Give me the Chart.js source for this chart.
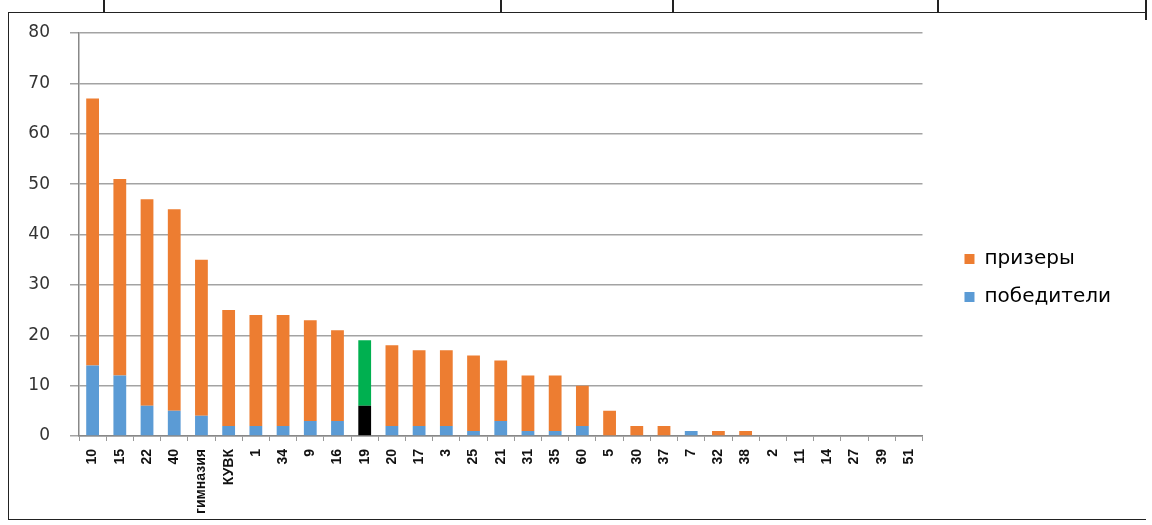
<!DOCTYPE html>
<html lang="ru">
<head>
    <meta charset="UTF-8">
    <title>Победители и призеры</title>
    <script src="https://cdn.jsdelivr.net/npm/chart.js"></script>
    <style>
        body { margin: 0; background: #fff; font-family: "DejaVu Sans", sans-serif; }
        .page { position: relative; width: 1152px; height: 525px; overflow: hidden; }
        .frame { position: absolute; left: 8px; top: 12px; width: 1137px; height: 506px; border: 1.5px solid #222; border-right: none; }
        .cell { position: absolute; top: 0; width: 1.5px; height: 13px; background: #222; }
        .chartbox { position: absolute; left: 0; top: 0; width: 1152px; height: 525px; }
    </style>
</head>
<body>
<div class="page">
    <div class="frame"></div>
    <div class="cell" style="left:103px"></div>
    <div class="cell" style="left:500px"></div>
    <div class="cell" style="left:672px"></div>
    <div class="cell" style="left:937px"></div>
    <div class="cell" style="left:1145px;height:20px"></div>
    <div class="chartbox"><canvas id="chart" width="1152" height="525"></canvas></div>
</div>

<script>
    const schools = ['10', '15', '22', '40', 'гимназия', 'КУВК', '1', '34', '9', '16', '19', '20', '17', '3', '25', '21',
                     '31', '35', '60', '5', '30', '37', '7', '32', '38', '2', '11', '14', '27', '39', '51'];
    const winners = [14, 12, 6, 5, 4, 2, 2, 2, 3, 3, 6, 2, 2, 2, 1, 3, 1, 1, 2, 0, 0, 0, 1, 0, 0, 0, 0, 0, 0, 0, 0];
    const prizers = [53, 39, 41, 40, 31, 23, 22, 22, 20, 18, 13, 16, 15, 15, 15, 12, 11, 11, 8, 5, 2, 2, 0, 1, 1, 0, 0, 0, 0, 0, 0];
    const yTicks = [0, 10, 20, 30, 40, 50, 60, 70, 80];

    // школа 19 выделена другим цветом
    const highlight = '19';
    const orange = '#ED7D31', blue = '#5B9BD5';
    const prizerColors = schools.map(s => s === highlight ? '#00B050' : orange);
    const winnerColors = schools.map(s => s === highlight ? '#000000' : blue);

    // сдвинуть легенду вправо, подальше от графика
    const legendShift = {
        id: 'legendShift',
        afterLayout(chart) {
            chart.legend.left += 24;
            chart.legend.right += 24;
        }
    };

    new Chart(document.getElementById('chart'), {
        type: 'bar',
        data: {
            labels: schools,
            datasets: [
                { label: 'победители', data: winners, backgroundColor: winnerColors },
                { label: 'призеры', data: prizers, backgroundColor: prizerColors }
            ]
        },
        plugins: [legendShift],
        options: {
            responsive: false,
            animation: false,
            layout: { padding: { left: 8, top: 33, right: 55, bottom: 2 } },
            datasets: { bar: { barPercentage: 0.47, categoryPercentage: 1 } },
            plugins: {
                tooltip: { enabled: false },
                legend: {
                    position: 'right',
                    reverse: true,
                    labels: {
                        boxWidth: 10, boxHeight: 10, padding: 18, color: '#2a1a1a',
                        font: { family: 'DejaVu Sans', size: 20 },
                        generateLabels: chart => chart.data.datasets.map((ds, i) => ({
                            text: ds.label,
                            fillStyle: i === 0 ? blue : orange,
                            strokeStyle: i === 0 ? blue : orange,
                            lineWidth: 0,
                            datasetIndex: i
                        }))
                    }
                }
            },
            scales: {
                x: {
                    stacked: true,
                    grid: { display: true, drawOnChartArea: false, drawTicks: true, tickLength: 5, color: '#999' },
                    border: { color: '#888', width: 1.5 },
                    ticks: {
                        autoSkip: false, maxRotation: 90, minRotation: 90, color: '#111', padding: 8,
                        font: { family: 'Liberation Sans', size: 14, weight: 'bold' }
                    },
                    afterFit: s => { s.height = 87; }
                },
                y: {
                    stacked: true,
                    min: 0, max: 80,
                    afterBuildTicks: s => { s.ticks = yTicks.map(v => ({ value: v })); },
                    grid: { color: '#a3a3a3', lineWidth: 1.5, drawTicks: true, tickLength: 9 },
                    border: { color: '#888', width: 1.5 },
                    ticks: { color: '#333', padding: 20, font: { family: 'DejaVu Sans', size: 17 } },
                    afterFit: s => { s.width = 71; }
                }
            }
        }
    });
</script>
</body>
</html>
